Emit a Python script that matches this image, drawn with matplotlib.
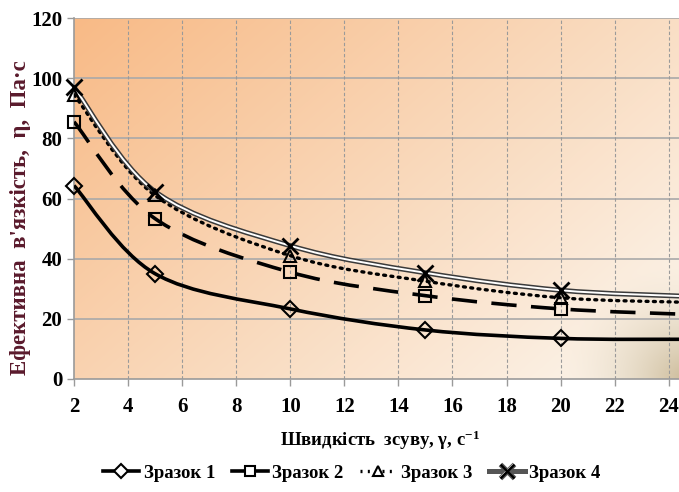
import numpy as np
import matplotlib
matplotlib.use("Agg")
import matplotlib.pyplot as plt
from matplotlib.path import Path
from matplotlib.patches import PathPatch
from matplotlib.lines import Line2D
import matplotlib.patheffects as pe

plt.rcParams['font.family'] = ['Liberation Serif', 'DejaVu Serif']
plt.rcParams['font.weight'] = 'bold'
plt.rcParams['mathtext.fontset'] = 'custom'
plt.rcParams['mathtext.rm'] = 'Liberation Serif:bold'
plt.rcParams['mathtext.it'] = 'Liberation Serif:bold'
plt.rcParams['mathtext.bf'] = 'Liberation Serif:bold'

# data
shear_rate = [2, 5, 10, 15, 20]
sample1 = [64.3, 35.0, 23.3, 16.3, 13.5]
sample2 = [85.5, 53.3, 35.5, 27.7, 23.3]
sample3 = [94.5, 61.0, 41.0, 32.5, 27.0]
sample4 = [97.0, 62.3, 44.3, 35.3, 29.5]
# where each curve meets the right edge of the plot
edge_x = 24.63
edge_vals = [13.2, 21.5, 25.5, 27.5]
names = ['Зразок 1', 'Зразок 2', 'Зразок 3', 'Зразок 4']
xticks = list(range(2, 25, 2))
yticks = list(range(0, 121, 20))

fig = plt.figure(figsize=(6.79, 4.92), dpi=100)
ax = fig.add_axes([74/679, 1-379/492, 1-74/679 + 0.01, (379-18)/492])
ax.set_xlim(2, edge_x)
ax.set_ylim(0, 120)

# background gradient
H, W = 300, 500
yy, xx = np.mgrid[0:1:H*1j, 0:1:W*1j]   # yy: 0 top -> 1 bottom
t = np.clip((xx*0.62 + yy*0.42), 0, 1)
c0 = np.array([248, 186, 134]) / 255
c1 = np.array([251, 245, 236]) / 255
img = c0[None, None, :]*(1-t[..., None]) + c1[None, None, :]*t[..., None]
d = np.sqrt(((xx-1.0)*1.6)**2 + ((yy-1.0)*1.0)**2)
w = np.clip(1 - d/0.33, 0, 1)**1.6
c2 = np.array([205, 188, 155]) / 255
img = img*(1-w[..., None]) + c2[None, None, :]*w[..., None]
ax.imshow(img, extent=[0, 1, 0, 1], transform=ax.transAxes, aspect='auto', zorder=0)

# grid
for yv in yticks[1:]:
    ax.axhline(yv, color='#a9a9a9', lw=1.2, zorder=1)
for xv in xticks[1:]:
    ax.axvline(xv, color='#9a9a9a', lw=0.8, ls=(0, (3, 2)), zorder=1)

for s in ['top', 'right']:
    ax.spines[s].set_visible(False)
for s in ['left', 'bottom']:
    ax.spines[s].set_color('#9a9a9a')
    ax.spines[s].set_linewidth(1.2)

ax.set_xticks(xticks)
ax.set_yticks(yticks)
ax.tick_params(axis='both', labelsize=15, colors='#9a9a9a', labelcolor='black', length=5, width=1)
ax.tick_params(axis='x', pad=8)
for lab in ax.get_xticklabels() + ax.get_yticklabels():
    lab.set_fontweight('bold')


def smooth_path(xs, ys):
    xs = np.asarray(xs, float); ys = np.asarray(ys, float)
    n = len(xs)
    verts = [(xs[0], ys[0])]
    codes = [Path.MOVETO]
    for i in range(n-1):
        p0 = np.array([xs[max(i-1, 0)], ys[max(i-1, 0)]])
        p1 = np.array([xs[i], ys[i]])
        p2 = np.array([xs[i+1], ys[i+1]])
        p3 = np.array([xs[min(i+2, n-1)], ys[min(i+2, n-1)]])
        c1 = p1 + (p2 - p0)/6
        c2 = p2 - (p3 - p1)/6
        verts += [tuple(c1), tuple(c2), tuple(p2)]
        codes += [Path.CURVE4]*3
    return Path(verts, codes)

series = [sample1, sample2, sample3, sample4]
styles = [
    dict(color='black', lw=2.6, ls='-'),
    dict(color='black', lw=2.6, ls=(0, (7, 4))),
    dict(color='black', lw=2.4, ls=(0, (0.6, 1.6)), capstyle='round'),
    dict(color='#3a3a3a', lw=3.6, ls='-'),
]
markers = ['D', 's', '^', 'x']
msizes = [8, 8, 8, 11]

for k, (vals, st) in enumerate(zip(series, styles)):
    path = smooth_path(shear_rate + [edge_x], vals + [edge_vals[k]])
    kw = dict(facecolor='none', edgecolor=st['color'], lw=st['lw'], linestyle=st['ls'], zorder=3+k*0.1, clip_on=True)
    if 'capstyle' in st:
        kw['capstyle'] = 'round'
    patch = PathPatch(path, **kw)
    ax.add_patch(patch)
    if k == 3:
        ax.add_patch(PathPatch(path, facecolor='none', edgecolor='white', lw=1.4, zorder=3.35))
    ax.plot(shear_rate, vals, ls='none', marker=markers[k], ms=msizes[k],
            mfc='none', mec='black', mew=1.5 if k < 3 else 2.0, zorder=4, clip_on=False)

ax.set_ylabel("Ефективна  в'язкість,  η,  Па·с", fontsize=16.5, fontweight='bold', color='#5a1a2c')
ax.yaxis.set_label_coords(-(74-31)/605, 1 - (218-18)/361)
ax.set_xlabel("Швидкість  зсуву, γ, с$^{-1}$", fontsize=13.5, fontweight='bold', labelpad=8)

handles = [
    Line2D([], [], color='black', lw=2.6, marker='D', ms=7, mfc='white', mec='black', mew=1.5),
    Line2D([], [], color='black', lw=2.6, marker='s', ms=7, mfc='white', mec='black', mew=1.5),
    Line2D([], [], color='black', lw=2.4, ls=(0, (0.6, 1.6)), marker='^', ms=7, mfc='white', mec='black', mew=1.5),
    Line2D([], [], color='#555555', lw=3.6, marker='x', ms=10, mec='black', mew=1.8,
           path_effects=[pe.Stroke(linewidth=3.6, foreground='#555555'), pe.Stroke(linewidth=1.4, foreground='white'), pe.Normal()]),
]
fig.legend(handles, names, loc='center', bbox_to_anchor=(352/679, 1-473/492), ncol=4, frameon=False,
           prop={'family': 'Liberation Serif', 'weight': 'bold', 'size': 13.5},
           handlelength=1.9, handletextpad=0.25, columnspacing=0.9)

fig.savefig('out.png', dpi=100)
